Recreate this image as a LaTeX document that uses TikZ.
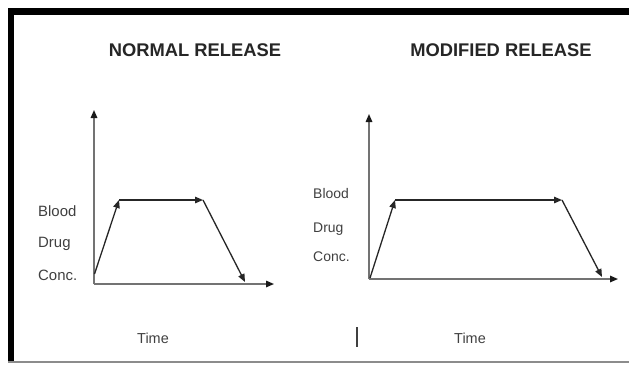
\documentclass[tikz,border=0pt]{standalone}
\usepackage{fontspec}
\setmainfont{Liberation Sans}
\usetikzlibrary{arrows.meta}

\begin{document}
\begin{tikzpicture}[%
        x = 1bp, y = -1bp,
        axis/.style = {draw=black!55, line width=1.5bp, -{Triangle[length=8bp,width=6.5bp,color=black!90]}},
        curve/.style = {draw=black!85, line width=1.3bp, -{Triangle[length=8bp,width=6.5bp]}},
        heading/.style = {font=\fontsize{18.4}{20}\selectfont\bfseries, text=black!85, inner sep=0, anchor=base},
        lbl/.style = {font=\fontsize{15}{17}\selectfont, text=black!75, inner sep=0, anchor=base west},
        rlbl/.style = {lbl, font=\fontsize{14}{16}\selectfont},
        timelbl/.style = {lbl, anchor=base, font=\fontsize{14.5}{16}\selectfont}
    ]
      \useasboundingbox (0,0) rectangle (629,364);
      % frame
      \fill [white] (0,0) rectangle (629,364);
      \fill [black] (8,8) rectangle (629,15);
      \fill [black] (8,8) rectangle (14,362);
      \draw [black!45, line width=1.5bp] (8,362) -- (629,362);
      % titles
      \node [heading] (tn) at (195,56.5) {NORMAL RELEASE};
      \node [heading] (tm) at (501,56.5) {MODIFIED RELEASE};
      % normal release
      \coordinate (no) at (94,284);
      \coordinate (ny) at (94,110);
      \coordinate (nx) at (274,284);
      \coordinate (n0) at (94.5,274);
      \coordinate (n1) at (119,200);
      \coordinate (n2) at (203,200);
      \coordinate (n3) at (245,282);
      \draw [axis] (no) -- (ny);
      \draw [axis] (no) -- (nx);
      \draw [curve] (n0) -- (n1);
      \draw [curve] (n1) -- (n2);
      \draw [curve] (n2) -- (n3);
      \node [lbl] (nb) at (38,216.5) {Blood};
      \node [lbl] (nd) at (38,247.5) {Drug};
      \node [lbl] (nc) at (38,280) {Conc.};
      \node [timelbl] (nt) at (153,343) {Time};
      % modified release
      \coordinate (mo) at (369,279);
      \coordinate (my) at (369,114);
      \coordinate (mx) at (618,279);
      \coordinate (m0) at (370,278);
      \coordinate (m1) at (395,200);
      \coordinate (m2) at (562,200);
      \coordinate (m3) at (602,277);
      \draw [axis] (mo) -- (my);
      \draw [axis] (mo) -- (mx);
      \draw [curve] (m0) -- (m1);
      \draw [curve] (m1) -- (m2);
      \draw [curve] (m2) -- (m3);
      \node [rlbl] (mb) at (313,198) {Blood};
      \node [rlbl] (md) at (313,232) {Drug};
      \node [rlbl] (mc) at (313,261) {Conc.};
      \node [timelbl] (mt) at (470,343) {Time};
      \coordinate (b0) at (357,327);
      \coordinate (b1) at (357,347);
      \draw [black!75, line width=2bp] (b0) -- (b1);
    \end{tikzpicture}
\end{document}
